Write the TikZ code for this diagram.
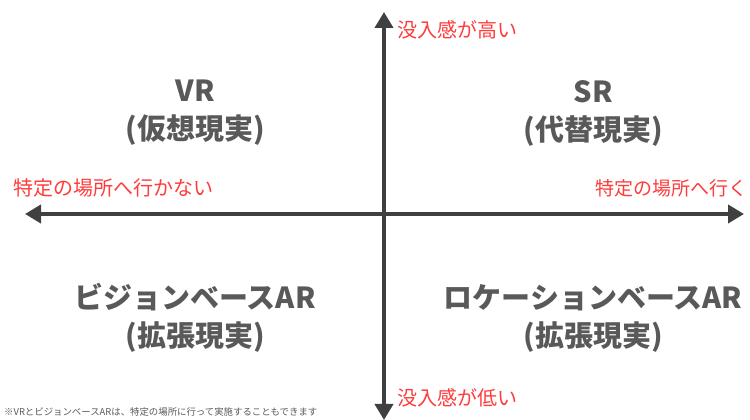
\documentclass[tikz,border=0pt]{standalone}
\usepackage{fontspec}
\newfontfamily\jp{Noto Sans CJK JP}
\usetikzlibrary{arrows.meta}
\definecolor{axisgray}{HTML}{404040}
\definecolor{txtgray}{HTML}{595959}
\definecolor{lblred}{HTML}{FF3B3B}
\tikzset{
  axis/.style={line width=4.5pt, color=axisgray, -{Triangle[length=16pt,width=18pt]}},
  quad/.style={font=\jp\bfseries\fontsize{29}{38}\selectfont, text=txtgray, align=center, inner sep=0pt},
  lbl/.style={font=\jp\fontsize{20}{22}\selectfont, text=lblred, inner sep=0pt},
  note/.style={font=\jp\fontsize{9.4}{11}\selectfont, text=txtgray, inner sep=0pt}
}
\begin{document}
\begin{tikzpicture}[x=1pt,y=1pt]
\useasboundingbox (0,0) rectangle (750,420);
\coordinate (c) at (384,206);
\coordinate (top) at (384,408);
\coordinate (bot) at (384,0);
\coordinate (lft) at (25,206);
\coordinate (rgt) at (744,206);
\draw[axis] (c) -- (top);
\draw[axis] (c) -- (bot);
\draw[axis] (c) -- (lft);
\draw[axis] (c) -- (rgt);
\node[lbl, anchor=west] (hi) at (397,390) {没入感が高い};
\node[lbl, anchor=west] (lo) at (397,22) {没入感が低い};
\node[lbl, anchor=west] (no) at (13,232) {特定の場所へ行かない};
\node[lbl, anchor=east, font=\jp\fontsize{19}{22}\selectfont] (go) at (748,232) {特定の場所へ行く};
\node[quad] (vr) at (195,307) {VR\\(仮想現実)};
\node[quad] (sr) at (593,307) {SR\\(代替現実)};
\node[quad] (vb) at (195,102) {ビジョンベースAR\\(拡張現実)};
\node[quad] (lb) at (593,102) {ロケーションベースAR\\(拡張現実)};
\node[note, anchor=west] (fn) at (4,8) {※VRとビジョンベースARは、特定の場所に行って実施することもできます};
\end{tikzpicture}
\end{document}
